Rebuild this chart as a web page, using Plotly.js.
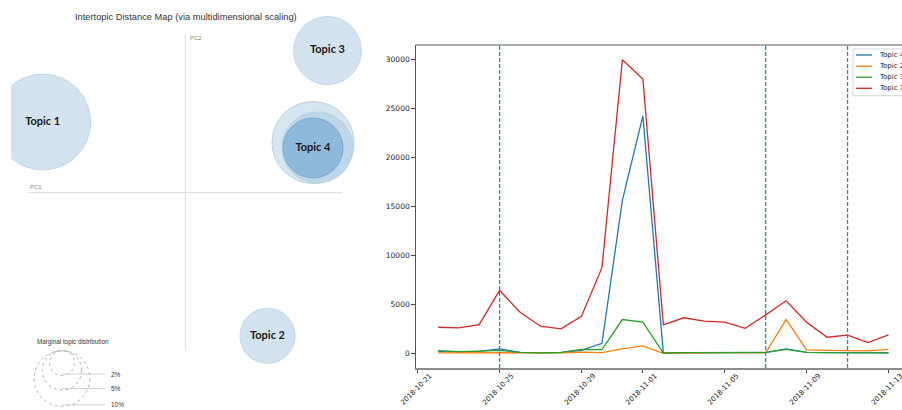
<!DOCTYPE html>
<html><head><meta charset="utf-8">
<script src="https://cdn.plot.ly/plotly-3.0.1.min.js"></script>
<style>html,body{margin:0;padding:0;background:#fff}#chart{width:902px;height:410px}</style>
</head><body><div id="chart"></div>
<script>
// ---------- time series data ----------
const dates = ['2018-10-22','2018-10-23','2018-10-24','2018-10-25','2018-10-26','2018-10-27','2018-10-28','2018-10-29','2018-10-30','2018-10-31','2018-11-01','2018-11-02','2018-11-03','2018-11-04','2018-11-05','2018-11-06','2018-11-07','2018-11-08','2018-11-09','2018-11-10','2018-11-11','2018-11-12','2018-11-13'];
const topic4 = [200,150,200,450,100,50,80,300,1030,15650,24260,40,60,60,60,50,80,450,100,80,60,60,50];
const topic2 = [50,50,60,70,60,40,60,120,70,450,760,0,60,50,80,50,50,3450,350,300,250,250,400];
const topic3 = [280,180,220,300,100,50,100,400,380,3450,3180,30,80,80,80,60,100,400,100,80,80,60,50];
const topic1 = [2665,2600,2940,6425,4200,2770,2500,3790,8750,30000,28020,2910,3630,3280,3180,2560,3930,5370,3180,1640,1850,1100,1880];
const seriesNames = ['Topic 4','Topic 2','Topic 3','Topic 1'];
const seriesValues = [topic4, topic2, topic3, topic1];
const seriesColors = ['#1f77b4','#ff7f0e','#2ca02c','#d62728'];
const eventDates = ['2018-10-25','2018-11-07','2018-11-11'];
const xTickVals = ['2018-10-21','2018-10-25','2018-10-29','2018-11-01','2018-11-05','2018-11-09','2018-11-13'];
const yTickVals = [0,5000,10000,15000,20000,25000,30000];

// ---------- intertopic distance map data ----------
const topicLabels = ['Topic 1','Topic 2','Topic 3','Topic 4'];
const topicPC1 = [-0.2377, 0.1370, 0.2370, 0.2128];
const topicPC2 = [0.1178, -0.2385, 0.2370, 0.0745];
const topicPct = [29.7, 9.8, 14.9, 11.6];
const overlapPC1 = [0.2128, 0.2203];
const overlapPC2 = [0.0837, 0.0753];
const overlapPct = [21.7, 16.3];
const legendPct = [2, 5, 10];
const legendLabels = ['2%','5%','10%'];

// ---------- layout geometry ----------
const W = 902, H = 410;
const PX = 600;            // pixels per MDS unit
const R_SCALE = 8.8;       // radius px per sqrt(percent)
const ox = 185.3, oy = 192.7; // MDS origin (px)
const mapL = 11, mapR = 375;
const rad = p => R_SCALE * Math.sqrt(p);

const traces = [];
seriesNames.forEach((n, i) => {
  traces.push({type:'scatter', mode:'lines', name:n, x:dates, y:seriesValues[i],
    line:{color:seriesColors[i], width:1.3}, xaxis:'x', yaxis:'y', showlegend:false});
});
traces.push({type:'scatter', mode:'markers', x:overlapPC1, y:overlapPC2, xaxis:'x2', yaxis:'y2',
  marker:{size:overlapPct.map(p=>2*rad(p)), sizemode:'diameter', color:['#d6e6f1','#bdd6e8'],
  line:{color:'#b9d0e2', width:1}, opacity:1}, hoverinfo:'skip', showlegend:false});
traces.push({type:'scatter', mode:'markers+text', x:topicPC1, y:topicPC2, xaxis:'x2', yaxis:'y2',
  text:topicLabels, textposition:'middle center',
  textfont:{family:'Lato, Open Sans, sans-serif', size:11, color:'#1a1a1a', weight:700},
  marker:{size:topicPct.map(p=>2*rad(p)), sizemode:'diameter',
    color:['#d2e3ef','#d2e3ef','#d2e3ef','#8fb9da'],
    line:{color:['#c3d7e7','#c3d7e7','#c3d7e7','#7fa9cb'], width:1}, opacity:1},
  showlegend:false});

const shapes = [];
shapes.push({type:'line', xref:'x2', yref:'y2', x0:0, x1:0, y0:(oy-350)/PX, y1:(oy-35)/PX, line:{color:'#dcdcdc', width:1}, layer:'below'});
shapes.push({type:'line', xref:'x2', yref:'y2', x0:(28-ox)/PX, x1:(342-ox)/PX, y0:0, y1:0, line:{color:'#dcdcdc', width:1}, layer:'below'});
const legCx = (62-ox)/PX, legTop = 350.7;
const annotations = [];
legendPct.forEach((p, i) => {
  const r = rad(p);
  const cyPx = legTop + r;
  shapes.push({type:'circle', xref:'x2', yref:'y2', x0:legCx - r/PX, x1:legCx + r/PX,
    y0:(oy-(cyPx+r))/PX, y1:(oy-(cyPx-r))/PX, line:{color:'#b0b0b0', width:1, dash:'dot'}});
  const by = (oy-(cyPx+r-1.5))/PX;
  shapes.push({type:'line', xref:'x2', yref:'y2', x0:legCx, x1:(105-ox)/PX, y0:by, y1:by, line:{color:'#d0d0d0', width:1}});
  annotations.push({xref:'x2', yref:'y2', x:(109-ox)/PX, y:by, text:legendLabels[i], showarrow:false,
    xanchor:'left', yanchor:'middle', font:{family:'Liberation Sans, Arial', size:6.5, color:'#333'}});
});
annotations.push({xref:'paper', yref:'paper', x:35/W, y:1-342/H, text:'Marginal topic distribution', showarrow:false,
  xanchor:'left', yanchor:'middle', font:{family:'Liberation Sans, Arial', size:6.3, color:'#333'}});
annotations.push({xref:'paper', yref:'paper', x:186/W, y:1-16.5/H, text:'Intertopic Distance Map (via multidimensional scaling)', showarrow:false,
  xanchor:'center', yanchor:'middle', font:{family:'Liberation Sans, Arial', size:9.3, color:'#333'}});
annotations.push({xref:'paper', yref:'paper', x:188/W, y:1-38/H, text:'PC2', showarrow:false,
  xanchor:'left', yanchor:'middle', font:{family:'Liberation Sans, Arial', size:6, color:'#8a8a8a'}});
annotations.push({xref:'paper', yref:'paper', x:28/W, y:1-187/H, text:'PC1', showarrow:false,
  xanchor:'left', yanchor:'middle', font:{family:'Liberation Sans, Arial', size:6, color:'#8a8a8a'}});

eventDates.forEach(d => {
  shapes.push({type:'line', xref:'x', yref:'y domain', x0:d, x1:d, y0:0, y1:1,
    line:{color:'#3683bd', width:1.3, dash:'4px,2px'}});
});
const plotTop = 45, plotBottom = 368, plotLeft = 415.7;
shapes.push({type:'line', xref:'paper', yref:'paper', x0:plotLeft/W, x1:1, y0:1-plotTop/H, y1:1-plotTop/H, line:{color:'#555', width:1}});

// matplotlib-style legend box
shapes.push({type:'rect', xref:'paper', yref:'paper', x0:853/W, x1:1.02, y0:1-95.7/H, y1:1-49/H,
  line:{color:'#d5d5d5', width:1}, fillcolor:'rgba(255,255,255,0.85)'});
seriesNames.forEach((n, i) => {
  const yy = 1 - (55 + i*11.1)/H;
  shapes.push({type:'line', xref:'paper', yref:'paper', x0:856/W, x1:872/W, y0:yy, y1:yy, line:{color:seriesColors[i], width:1.3}});
  annotations.push({xref:'paper', yref:'paper', x:876.5/W, y:yy, text:n, showarrow:false, xanchor:'left', yanchor:'middle',
    font:{family:'DejaVu Sans, sans-serif', size:7, color:'#222'}});
});

const t0 = Date.parse(dates[0]+'T00:00:00Z'), t1 = Date.parse(dates[dates.length-1]+'T00:00:00Z');
const span = t1 - t0, pad = 0.05*span;
const fullPx = 911 - plotLeft;
const L = t0 - pad;
const R = L + (span*1.1)*(W - plotLeft)/fullPx;
const fmt = ms => new Date(ms).toISOString().replace('T',' ').replace('Z','');
const ymax = Math.max(...topic1);

const layout = {
  width:W, height:H, margin:{l:0,r:0,t:0,b:0, autoexpand:false},
  paper_bgcolor:'#fff', plot_bgcolor:'rgba(0,0,0,0)', showlegend:false,
  font:{family:'DejaVu Sans, sans-serif', size:7.5, color:'#222'},
  xaxis:{type:'date', domain:[plotLeft/W, 1], range:[fmt(L), fmt(R)], anchor:'y',
    tickvals:xTickVals, tickformat:'%Y-%m-%d', tickangle:-45, ticks:'outside', ticklen:3.5, tickcolor:'#444',
    showline:true, linecolor:'#8c8c8c', linewidth:1.5, showgrid:false, zeroline:false,
    tickfont:{family:'DejaVu Sans, sans-serif', size:7, color:'#222'}, ticklabelshift:12, ticklabelstandoff:-4,
    ticklabeloverflow:'allow'},
  yaxis:{domain:[1-plotBottom/H, 1-plotTop/H], range:[-0.05*ymax, 1.05*ymax], anchor:'x',
    tickvals:yTickVals, tickformat:'d', ticks:'outside', ticklen:3.5, tickcolor:'#444', showline:true, linecolor:'#555', linewidth:1,
    showgrid:false, zeroline:false, tickfont:{family:'DejaVu Sans, sans-serif', size:7.5, color:'#222'}},
  xaxis2:{domain:[mapL/W, mapR/W], range:[(mapL-ox)/PX, (mapR-ox)/PX], anchor:'y2', visible:false, fixedrange:true},
  yaxis2:{domain:[0,1], range:[(oy-H)/PX, oy/PX], anchor:'x2', visible:false, fixedrange:true},
  shapes:shapes, annotations:annotations
};
Plotly.newPlot('chart', traces, layout, {displayModeBar:false, staticPlot:true});
</script>
</body></html>
